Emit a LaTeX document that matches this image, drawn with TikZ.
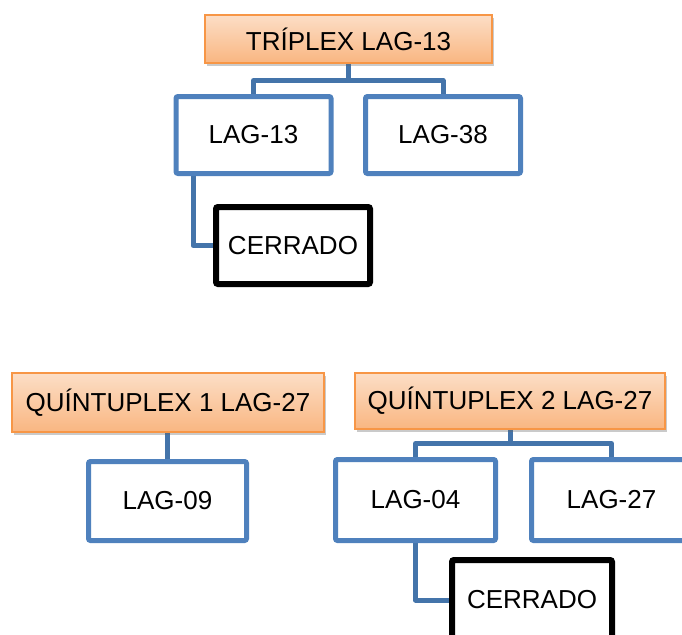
\documentclass[tikz,border=0pt]{standalone}
\usepackage{fontspec}
\setmainfont{Liberation Sans}
\usetikzlibrary{shadows,backgrounds,calc}
\definecolor{boxblue}{HTML}{4F81BD}
\definecolor{linkblue}{HTML}{4474AA}
\definecolor{orangeedge}{HTML}{F79646}
\definecolor{orangetop}{HTML}{FCDEC6}
\definecolor{orangebot}{HTML}{F9B681}
\tikzset{
  lbl/.style={font=\fontsize{26}{30}\selectfont, text=black, inner sep=0pt},
  headbox/.style={lbl, draw=orangeedge, line width=1.5pt, top color=orangetop, bottom color=orangebot,
    drop shadow={shadow xshift=2pt, shadow yshift=-3pt, opacity=0.35, fill=black!60}},
  childbox/.style={lbl, draw=boxblue, line width=5pt, fill=white, rounded corners=2pt},
  closedbox/.style={lbl, draw=black, line width=6pt, fill=white, rounded corners=2pt},
  link/.style={draw=linkblue, line width=5pt, line join=round}
}
\begin{document}
\begin{tikzpicture}[x=1pt,y=-1pt]
\useasboundingbox (0,0) rectangle (682,634);
\clip (0,0) rectangle (682,634);
% top group
\node[headbox, minimum width=287, minimum height=48] (trip) at (348.5,39) {TRÍPLEX LAG-13};
\node[childbox, minimum width=155, minimum height=77] (l13) at (253.5,135) {LAG-13};
\node[childbox, minimum width=155, minimum height=77] (l38) at (443,135) {LAG-38};
\node[closedbox, minimum width=154, minimum height=77] (c1) at (293,245.5) {CERRADO};
\coordinate (j1) at (348,80.5);
% bottom left group
\node[headbox, minimum width=312, minimum height=59] (q1) at (168,402.5) {QUÍNTUPLEX 1 LAG-27};
\node[childbox, minimum width=158, minimum height=79] (l09) at (167.5,501) {LAG-09};
% bottom right group
\node[headbox, minimum width=310, minimum height=56] (q2) at (510,401) {QUÍNTUPLEX 2 LAG-27};
\node[childbox, minimum width=160, minimum height=81] (l04) at (415.5,500) {LAG-04};
\node[childbox, minimum width=160, minimum height=81] (l27) at (611.5,500) {LAG-27};
\node[closedbox, minimum width=160, minimum height=80] (c2) at (532,600) {CERRADO};
\coordinate (j2) at (510,443.5);
\begin{pgfonlayer}{background}
  \draw[link] (trip.south -| j1) -- (j1);
  \draw[link] (l13.north) |- (j1) -| (l38.north);
  \draw[link] ($(l13.south)+(-60.5,0)$) |- (c1.west);
  \draw[link] (q1.south -| l09.north) -- (l09.north);
  \draw[link] (q2.south -| j2) -- (j2);
  \draw[link] (l04.north) |- (j2) -| (l27.north);
  \draw[link] (l04.south) |- (c2.west);
\end{pgfonlayer}
\end{tikzpicture}
\end{document}
